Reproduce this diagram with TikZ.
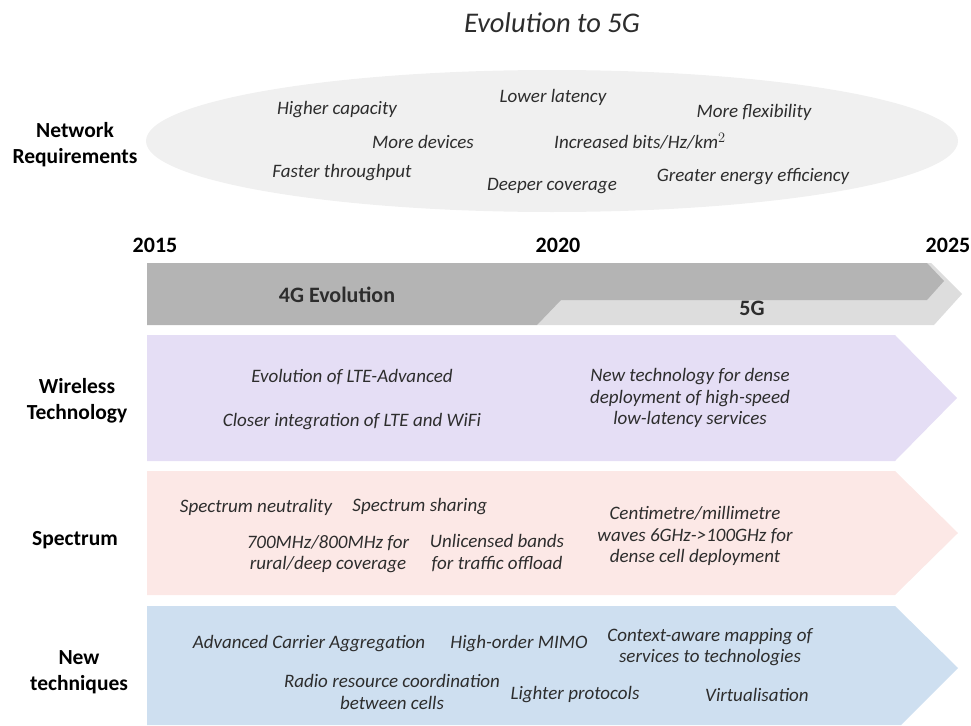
\documentclass[tikz,border=0pt]{standalone}
\usepackage{fontspec}
\setmainfont{Carlito}
\usetikzlibrary{positioning}

\definecolor{reqfill}{RGB}{240,240,240}
\definecolor{evofill}{RGB}{180,180,180}
\definecolor{fivegfill}{RGB}{221,221,221}
\definecolor{wirefill}{RGB}{229,222,245}
\definecolor{specfill}{RGB}{252,232,230}
\definecolor{techfill}{RGB}{206,223,240}
\definecolor{txt}{RGB}{45,45,45}

\begin{document}
\begin{tikzpicture}[x=1pt, y=-1pt]
  \tikzstyle{heading} = [font=\fontsize{28.5}{32}\selectfont\itshape, text=txt]
  \tikzstyle{item} = [font=\fontsize{19}{21.5}\selectfont\itshape, text=txt, align=center, inner sep=1pt]
  \tikzstyle{rowlabel} = [font=\fontsize{21.5}{26}\selectfont\bfseries, align=center]
  \tikzstyle{year} = [font=\fontsize{22}{24}\selectfont\bfseries]
  \tikzstyle{era} = [font=\fontsize{22}{24}\selectfont\bfseries, text=txt]
  \useasboundingbox (0,0) rectangle (971,725);

  \node [heading] (title) at (552,23) {Evolution to 5G};

  \fill [reqfill] (552,141) ellipse [x radius=406pt, y radius=71pt];
  \node [rowlabel] (netreq) at (75,145) {Network\\Requirements};
  \node [item] (capacity) at (337,110) {Higher capacity};
  \node [item] (latency) at (553,97) {Lower latency};
  \node [item] (flex) at (754,112) {More flexibility};
  \node [item] (devices) at (423,142) {More devices};
  \node [item] (bits) at (640,141) {Increased bits/Hz/km$^{2}$};
  \node [item] (throughput) at (342,173) {Faster throughput};
  \node [item] (coverage) at (552,186) {Deeper coverage};
  \node [item] (energy) at (753,177) {Greater energy efficiency};

  \node [year] (y2015) at (155,245) {2015};
  \node [year] (y2020) at (558,245) {2020};
  \node [year] (y2025) at (948,245) {2025};

  \fill [fivegfill] (537,325) -- (573,263) -- (931,263) -- (962,294) -- (934,325) -- cycle;
  \fill [evofill] (147,263) -- (927,263) -- (944,281) -- (927,300) -- (561,300)
    -- (537,325) -- (147,325) -- cycle;
  \node [era] (fourg) at (337,295) {4G Evolution};
  \node [era] (fiveg) at (752,308) {5G};

  \fill [wirefill] (147,335) -- (895,335) -- (957,398) -- (895,461) -- (147,461) -- cycle;
  \node [rowlabel] (wireless) at (77,401) {Wireless\\Technology};
  \node [item] (lteadv) at (352,377) {Evolution of LTE-Advanced};
  \node [item] (ltewifi) at (352,422) {Closer integration of LTE and WiFi};
  \node [item] (newtech) at (690,398) {New technology for dense\\deployment of high-speed\\low-latency services};

  \fill [specfill] (147,471) -- (895,471) -- (958,533) -- (895,595) -- (147,595) -- cycle;
  \node [rowlabel] (spectrum) at (75,540) {Spectrum};
  \node [item] (neutral) at (256,507) {Spectrum neutrality};
  \node [item, right=18pt of neutral] (sharing) {Spectrum sharing};
  \node [item] (lowband) at (328,554) {700MHz/800MHz for\\rural/deep coverage};
  \node [item] (unlic) at (497,553) {Unlicensed bands\\for traffic offload};
  \node [item] (mmwave) at (695,536) {Centimetre/millimetre\\waves 6GHz->100GHz for\\dense cell deployment};

  \fill [techfill] (147,606) -- (895,606) -- (958,668) -- (901,725) -- (147,725) -- cycle;
  \node [rowlabel] (techniques) at (79,672) {New\\techniques};
  \node [item] (carrier) at (309,644) {Advanced Carrier Aggregation};
  \node [item] (mimo) at (519,644) {High-order MIMO};
  \node [item] (context) at (710,647) {Context-aware mapping of\\services to technologies};
  \node [item] (radio) at (392,692) {Radio resource coordination\\between cells};
  \node [item] (lighter) at (575,695) {Lighter protocols};
  \node [item] (virtual) at (757,695) {Virtualisation};
\end{tikzpicture}
\end{document}
